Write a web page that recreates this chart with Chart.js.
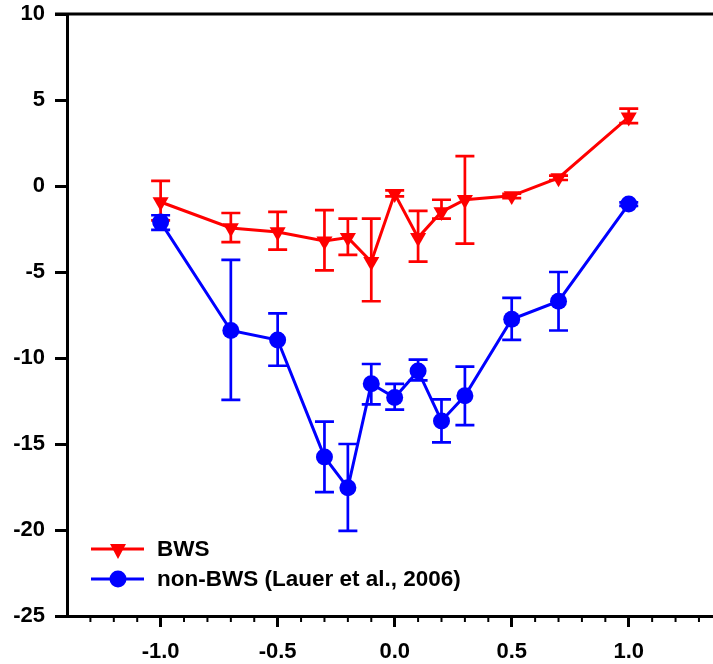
<!DOCTYPE html>
<html>
<head>
<meta charset="utf-8">
<script src="https://cdn.jsdelivr.net/npm/chart.js@4.4.0/dist/chart.umd.min.js"></script>
<style>
  body { margin: 0; background: #fff; }
  #wrap { width: 713px; height: 664px; }
</style>
</head>
<body>
<div id="wrap"><canvas id="myChart" width="713" height="664"></canvas></div>
<script>
// x positions shared by both series
const xVals = [-1.0, -0.7, -0.5, -0.3, -0.2, -0.1, 0.0, 0.1, 0.2, 0.3, 0.5, 0.7, 1.0];

// BWS (red) - mean, top and bottom of error bar
const bws   = [-0.93, -2.44, -2.67, -3.2, -3.0, -4.4, -0.45, -3.0, -1.5, -0.8, -0.57, 0.47, 4.0];
const bwsHi = [0.3, -1.57, -1.5, -1.4, -1.9, -1.9, -0.25, -1.45, -0.8, 1.74, -0.45, 0.6, 4.5];
const bwsLo = [-2.0, -3.26, -3.7, -4.9, -4.0, -6.7, -0.6, -4.4, -1.9, -3.35, -0.7, 0.35, 3.65];

// non-BWS (blue)
const nonBws   = [-2.1, -8.4, -8.95, -15.75, -17.55, -11.5, -12.3, -10.75, -13.66, -12.2, -7.75, -6.7, -1.05];
const nonBwsHi = [-1.7, -4.3, -7.4, -13.7, -15.0, -10.35, -11.5, -10.1, -12.4, -10.5, -6.5, -5.0, -0.95];
const nonBwsLo = [-2.55, -12.44, -10.45, -17.8, -20.05, -12.7, -13.0, -11.3, -14.9, -13.9, -8.95, -8.4, -1.15];

const seriesNames = ['BWS', 'non-BWS (Lauer et al., 2006)'];
const xMajorTicks = [-1.0, -0.5, 0.0, 0.5, 1.0];
const xMinorTicks = [-1.3, -1.2, -1.1, -0.9, -0.8, -0.7, -0.6, -0.4, -0.3, -0.2, -0.1,
                     0.1, 0.2, 0.3, 0.4, 0.6, 0.7, 0.8, 0.9, 1.1, 1.2, 1.3];

const FAMILY = '"Liberation Sans", Arial, sans-serif';
const FONT = 'bold 22.5px ' + FAMILY;

function pts(ys) {
    return xVals.map(function (x, i) { return { x: x, y: ys[i] }; });
}

// error bars drawn through the scales
const errorBars = {
    id: 'errorBars',
    afterDatasetDraw: function (chart, args) {
        const ds = chart.data.datasets[args.index];
        const xs = chart.scales.x, ys = chart.scales.y;
        const c = chart.ctx;
        c.save();
        c.strokeStyle = ds.borderColor;
        c.lineWidth = 2.7;
        for (let i = 0; i < xVals.length; i++) {
            const px = xs.getPixelForValue(xVals[i]);
            const top = ys.getPixelForValue(ds.errHi[i]);
            const bot = ys.getPixelForValue(ds.errLo[i]);
            c.beginPath();
            c.moveTo(px, top); c.lineTo(px, bot);
            c.moveTo(px - 9.5, top); c.lineTo(px + 9.5, top);
            c.moveTo(px - 9.5, bot); c.lineTo(px + 9.5, bot);
            c.stroke();
        }
        c.restore();
    }
};

// minor x ticks, top frame line and legend
const extras = {
    id: 'extras',
    afterDraw: function (chart) {
        const c = chart.ctx;
        const xs = chart.scales.x;
        const area = chart.chartArea;
        c.save();
        c.strokeStyle = '#000';
        c.lineWidth = 2;
        xMinorTicks.forEach(function (v) {
            const px = xs.getPixelForValue(v);
            c.beginPath();
            c.moveTo(px, area.bottom);
            c.lineTo(px, area.bottom + 6);
            c.stroke();
        });
        // top line
        c.lineWidth = 3;
        c.beginPath();
        c.moveTo(area.left - 12, area.top);
        c.lineTo(area.right, area.top);
        c.stroke();

        // legend
        const items = chart.data.datasets;
        const ly = [549, 579];
        c.font = FONT;
        c.textBaseline = 'middle';
        items.forEach(function (ds, i) {
            c.strokeStyle = ds.borderColor;
            c.fillStyle = ds.borderColor;
            c.lineWidth = 3;
            c.beginPath();
            c.moveTo(91, ly[i]); c.lineTo(144, ly[i]);
            c.stroke();
            if (ds.pointStyle === 'triangle') {
                c.beginPath();
                c.moveTo(110, ly[i] - 5);
                c.lineTo(126, ly[i] - 5);
                c.lineTo(118, ly[i] + 10);
                c.closePath();
                c.fill();
            } else {
                c.beginPath();
                c.arc(118, ly[i], 8.5, 0, Math.PI * 2);
                c.fill();
            }
            c.fillStyle = '#000';
            c.fillText(seriesNames[i], 157, ly[i] + 1);
        });
        c.restore();
    }
};

const ctx = document.getElementById('myChart').getContext('2d');
const chart = new Chart(ctx, {
    type: 'line',
    data: {
        datasets: [{
            label: seriesNames[0],
            data: pts(bws),
            errHi: bwsHi,
            errLo: bwsLo,
            borderColor: '#ff0000',
            backgroundColor: '#ff0000',
            borderWidth: 3,
            pointStyle: 'triangle',
            rotation: 180,
            pointRadius: 9.3,
            pointBorderWidth: 0,
            order: 1
        }, {
            label: seriesNames[1],
            data: pts(nonBws),
            errHi: nonBwsHi,
            errLo: nonBwsLo,
            borderColor: '#0000ff',
            backgroundColor: '#0000ff',
            borderWidth: 3,
            pointStyle: 'circle',
            pointRadius: 8.5,
            pointBorderWidth: 0,
            order: 0
        }]
    },
    options: {
        responsive: false,
        devicePixelRatio: 1,
        animation: false,
        layout: { autoPadding: false, padding: { top: 14, right: 0, left: 0, bottom: 0 } },
        plugins: { legend: { display: false }, tooltip: { enabled: false } },
        scales: {
            x: {
                type: 'linear',
                min: -1.4,
                max: 1.36,
                afterBuildTicks: function (scale) {
                    scale.ticks = xMajorTicks.map(function (v) { return { value: v }; });
                },
                afterFit: function (scale) {
                    scale.height = 48;
                    scale.paddingLeft = 0;
                    scale.paddingRight = 0;
                },
                border: { display: true, color: '#000', width: 3 },
                grid: { drawOnChartArea: false, tickLength: 11, tickWidth: 3, tickColor: '#000' },
                ticks: {
                    color: '#000',
                    font: { family: FAMILY, size: 22, weight: 'bold' },
                    padding: 12,
                    maxRotation: 0,
                    callback: function (v) { return v.toFixed(1); }
                }
            },
            y: {
                min: -25,
                max: 10,
                afterFit: function (scale) {
                    scale.width = 67;
                    scale.paddingTop = 0;
                    scale.paddingBottom = 0;
                },
                border: { display: true, color: '#000', width: 3 },
                grid: { drawOnChartArea: false, tickLength: 12, tickWidth: 3, tickColor: '#000' },
                ticks: {
                    stepSize: 5,
                    color: '#000',
                    font: { family: FAMILY, size: 22, weight: 'bold' },
                    padding: 10
                }
            }
        }
    },
    plugins: [errorBars, extras]
});
</script>
</body>
</html>
